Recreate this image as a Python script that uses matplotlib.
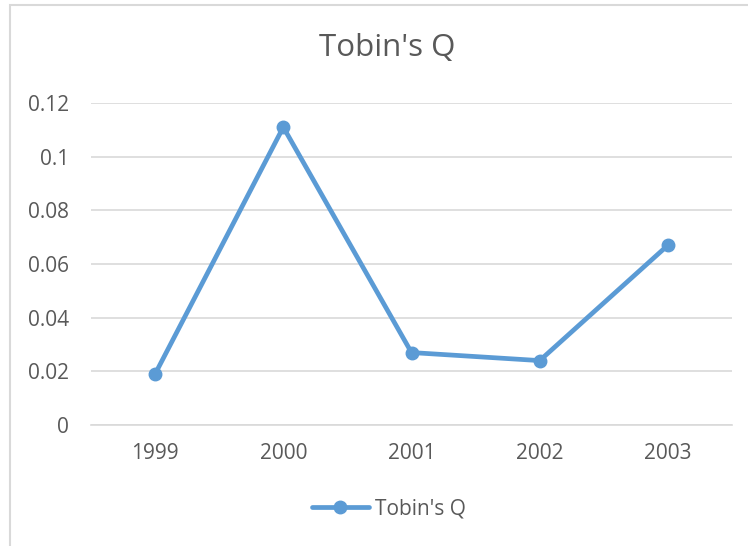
import matplotlib.pyplot as plt
from matplotlib.patches import Rectangle

years = ['1999', '2000', '2001', '2002', '2003']
tobins_q = [0.019, 0.111, 0.027, 0.024, 0.067]
y_ticks = [0, 0.02, 0.04, 0.06, 0.08, 0.1, 0.12]
y_labels = ['0', '0.02', '0.04', '0.06', '0.08', '0.1', '0.12']

plt.rcParams['font.family'] = ['Open Sans', 'DejaVu Sans']
txt = '#595959'
grid = '#d9d9d9'
blue = '#5b9bd5'

fig = plt.figure(figsize=(7.48, 5.46), dpi=100)
# outer chart frame
fig.patches.append(Rectangle((10 / 748, -0.1), 1.2, 1 - 5 / 546 + 0.1,
                             transform=fig.transFigure, fill=False,
                             edgecolor=grid, linewidth=1.5))

ax = fig.add_axes([91 / 748, 1 - 425 / 546, (732 - 91) / 748, (425 - 103) / 546])
x = range(len(years))
ax.plot(x, tobins_q, color=blue, linewidth=3.4, marker='o', markersize=9,
        label="Tobin's Q", solid_capstyle='round')
ax.set_xlim(-0.5, len(years) - 0.5)
ax.set_ylim(0, 0.12)
ax.set_yticks(y_ticks)
ax.set_yticklabels(y_labels)
ax.set_xticks(list(x))
ax.set_xticklabels(years)
ax.grid(axis='y', color=grid, linewidth=1.2)
ax.set_axisbelow(True)
for s in ['top', 'right', 'left']:
    ax.spines[s].set_visible(False)
ax.spines['bottom'].set_color(grid)
ax.spines['bottom'].set_linewidth(1.2)
ax.tick_params(length=0, labelsize=15, colors=txt)
ax.tick_params(axis='x', pad=13)
ax.tick_params(axis='y', pad=16)

fig.text(387 / 748, 1 - 48 / 546, "Tobin's Q", ha='center', va='center',
         fontsize=22.5, color=txt)
fig.legend(loc='center', bbox_to_anchor=(389 / 748, 1 - 509 / 546), frameon=False,
           fontsize=15, labelcolor=txt, handlelength=2.75, handletextpad=0.3)

fig.savefig('out.png', dpi=100)
